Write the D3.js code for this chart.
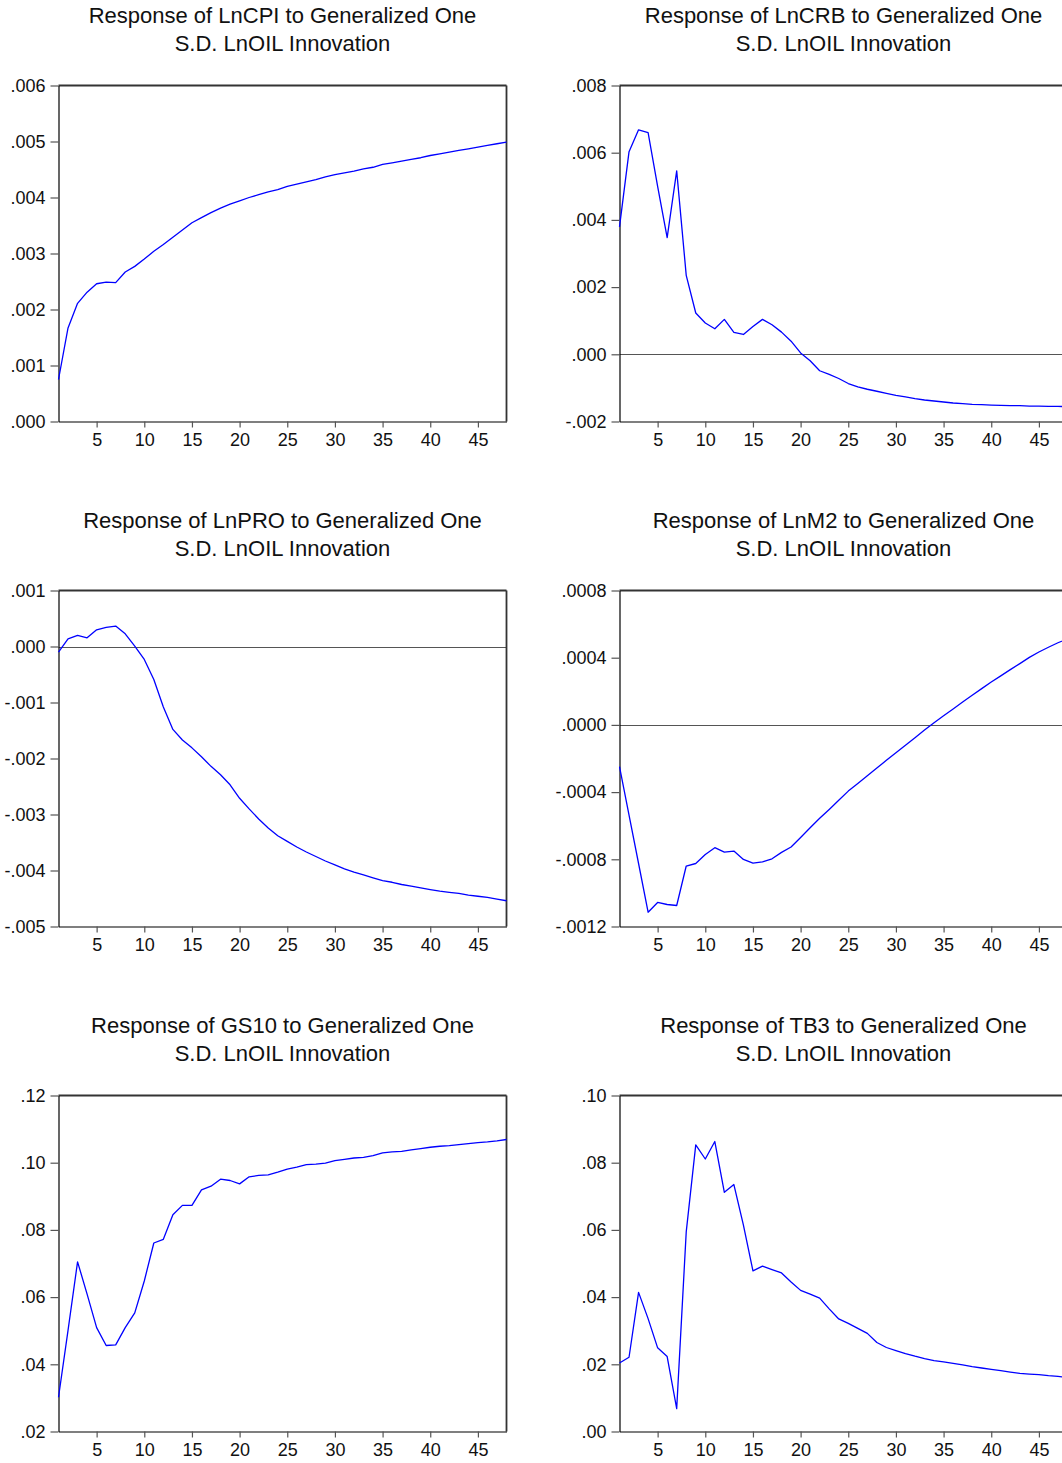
<!DOCTYPE html>
<html><head><meta charset="utf-8">
<script src="https://cdn.jsdelivr.net/npm/d3@7"></script>
<style>
html,body{margin:0;padding:0;background:#fff;overflow:hidden}
svg{display:block}
</style></head><body>
<svg id="c" width="1062" height="1463"></svg>
<script>
const periods = d3.range(1, 49);
const xTicks = [5, 10, 15, 20, 25, 30, 35, 40, 45];

const lncpi = [.00075,.00167,.00211,.00231,.00246,.00249,.00248,.00267,.00277,.00290,
  .00304,.00316,.00329,.00342,.00355,.00364,.00373,.00381,.00388,.00394,
  .00400,.00405,.00410,.00414,.00420,.00424,.00428,.00432,.00437,.00441,
  .00444,.00447,.00451,.00454,.00459,.00462,.00465,.00468,.00471,.00475,
  .00478,.00481,.00484,.00487,.00490,.00493,.00496,.00499];
const lncrb = [.00379,.00603,.00668,.0066,.0050,.00347,.00546,.00235,.00123,.00093,
  .00076,.00104,.00065,.00059,.00083,.00104,.00088,.00066,.00039,.00004,
  -.00019,-.00049,-.0006,-.00072,-.00087,-.00097,-.00104,-.0011,-.00116,-.00122,
  -.00127,-.00132,-.00136,-.00139,-.00142,-.00145,-.00147,-.00149,-.0015,-.00151,
  -.00152,-.00153,-.00153,-.00154,-.00154,-.00155,-.00155,-.00156];
const lnpro = [-.0001,.000137,.000197,.000155,.000298,.00034,.000364,.000226,.000006,-.000232,
  -.00059,-.00108,-.00148,-.00167,-.00181,-.00197,-.00214,-.00229,-.00247,-.00271,
  -.0029,-.00308,-.00324,-.00338,-.00348,-.00358,-.00367,-.00375,-.00383,-.0039,
  -.00397,-.00403,-.00408,-.00413,-.00418,-.00421,-.00425,-.00428,-.00431,-.00434,
  -.00437,-.00439,-.00441,-.00444,-.00446,-.00448,-.00451,-.00454];
const lnm2 = [-.000248,-.000537,-.000825,-.001115,-.001057,-.001069,-.001075,-.00084,-.000825,-.000771,
  -.000731,-.000757,-.000751,-.000801,-.000823,-.000815,-.000797,-.000759,-.000727,-.00067,
  -.000612,-.000556,-.000503,-.000449,-.000394,-.000349,-.000303,-.000257,-.000211,-.000166,
  -.000121,-.000076,-.000031,.000013,.000054,.000095,.000136,.000176,.000216,.000255,
  .000292,.000329,.000365,.000402,.000434,.000462,.000489,.000512];
const gs10 = [.0302,.0501,.0705,.0609,.0509,.0456,.0458,.0509,.0553,.0648,
  .0761,.0772,.0845,.0873,.0873,.0919,.0930,.0951,.0947,.0937,
  .0958,.0962,.0964,.0972,.0981,.0987,.0994,.0996,.0999,.1006,
  .1010,.1014,.1016,.1021,.1029,.1032,.1034,.1038,.1042,.1046,
  .1049,.1051,.1054,.1057,.1060,.1062,.1065,.1069];
const tb3 = [.0204,.0221,.0414,.0336,.0249,.0223,.0068,.0594,.0853,.0811,
  .0863,.0712,.0735,.0614,.0478,.0492,.0482,.0472,.0445,.0420,
  .0409,.0397,.0365,.0335,.0322,.0307,.0292,.0265,.0250,.0241,
  .0232,.0224,.0217,.0211,.0207,.0203,.0198,.0193,.0189,.0185,
  .0181,.0177,.0173,.0171,.0169,.0166,.0164,.0161];

const titles1 = ["Response of LnCPI to Generalized One", "Response of LnCRB to Generalized One",
  "Response of LnPRO to Generalized One", "Response of LnM2 to Generalized One",
  "Response of GS10 to Generalized One", "Response of TB3 to Generalized One"];
const title2 = "S.D. LnOIL Innovation";

const cpiTicks = [0, .001, .002, .003, .004, .005, .006];
const cpiLabels = [".000", ".001", ".002", ".003", ".004", ".005", ".006"];
const crbTicks = [-.002, 0, .002, .004, .006, .008];
const crbLabels = ["-.002", ".000", ".002", ".004", ".006", ".008"];
const proTicks = [-.005, -.004, -.003, -.002, -.001, 0, .001];
const proLabels = ["-.005", "-.004", "-.003", "-.002", "-.001", ".000", ".001"];
const m2Ticks = [-.0012, -.0008, -.0004, 0, .0004, .0008];
const m2Labels = ["-.0012", "-.0008", "-.0004", ".0000", ".0004", ".0008"];
const gsTicks = [.02, .04, .06, .08, .10, .12];
const gsLabels = [".02", ".04", ".06", ".08", ".10", ".12"];
const tbTicks = [0, .02, .04, .06, .08, .10];
const tbLabels = [".00", ".02", ".04", ".06", ".08", ".10"];

const panels = [
  {s: lncpi, t: titles1[0], ticks: cpiTicks, labels: cpiLabels, zero: false},
  {s: lncrb, t: titles1[1], ticks: crbTicks, labels: crbLabels, zero: true},
  {s: lnpro, t: titles1[2], ticks: proTicks, labels: proLabels, zero: true},
  {s: lnm2,  t: titles1[3], ticks: m2Ticks,  labels: m2Labels,  zero: true},
  {s: gs10,  t: titles1[4], ticks: gsTicks,  labels: gsLabels,  zero: false},
  {s: tb3,   t: titles1[5], ticks: tbTicks,  labels: tbLabels,  zero: false}
];

const colX = [58.5, 619.5];
const rowY = [85.5, 590.5, 1095.5];
const W = 448, H = 336;
const font = "'Liberation Sans', Arial, sans-serif";

const svg = d3.select("#c");

panels.forEach((p, i) => {
  const x0 = colX[i % 2], y0 = rowY[Math.floor(i / 2)];
  const x = d3.scaleLinear().domain([1, 48]).range([x0, x0 + W]);
  const y = d3.scaleLinear().domain([p.ticks[0], p.ticks[p.ticks.length - 1]]).range([y0 + H, y0]);
  const g = svg.append("g");

  // titles
  g.append("text").attr("x", x0 + W / 2).attr("y", y0 - 62.5)
    .attr("text-anchor", "middle").attr("font-family", font).attr("font-size", 22)
    .attr("fill", "#111").text(p.t);
  g.append("text").attr("x", x0 + W / 2).attr("y", y0 - 35)
    .attr("text-anchor", "middle").attr("font-family", font).attr("font-size", 22)
    .attr("fill", "#111").text(title2);

  // zero line
  if (p.zero) {
    g.append("line").attr("x1", x0).attr("x2", x0 + W)
      .attr("y1", Math.round(y(0)) + 0.5).attr("y2", Math.round(y(0)) + 0.5)
      .attr("stroke", "#555").attr("stroke-width", 1.2);
  }

  // top & right frame
  g.append("line").attr("x1", x0).attr("x2", x0 + W).attr("y1", y0).attr("y2", y0)
    .attr("stroke", "#333").attr("stroke-width", 1.8);
  g.append("line").attr("x1", x0 + W).attr("x2", x0 + W).attr("y1", y0).attr("y2", y0 + H)
    .attr("stroke", "#333").attr("stroke-width", 1.8);

  // y axis
  const ya = g.append("g").attr("transform", `translate(${x0},0)`)
    .call(d3.axisLeft(y).tickValues(p.ticks).tickFormat((d, k) => p.labels[k])
      .tickSize(8).tickSizeOuter(0).tickPadding(5));
  // x axis
  const xa = g.append("g").attr("transform", `translate(0,${y0 + H})`)
    .call(d3.axisBottom(x).tickValues(xTicks).tickFormat(d3.format("d"))
      .tickSize(6).tickSizeOuter(0).tickPadding(6));
  [ya, xa].forEach(a => {
    a.select(".domain").attr("stroke", "#000").attr("stroke-width", 1.2);
    a.selectAll(".tick line").attr("stroke", "#555").attr("stroke-width", 1.2);
    a.selectAll(".tick text").attr("font-family", font).attr("font-size", 18).attr("fill", "#111");
  });

  // curve
  g.append("path").datum(p.s)
    .attr("fill", "none").attr("stroke", "#0000FF").attr("stroke-width", 1.3)
    .attr("stroke-linejoin", "round")
    .attr("d", d3.line().x((d, k) => x(periods[k])).y(d => y(d)));
});
</script>
</body></html>
